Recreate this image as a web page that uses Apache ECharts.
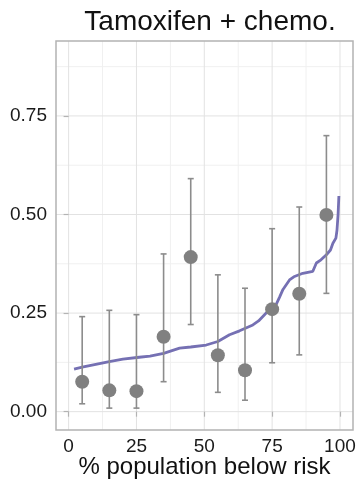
<!DOCTYPE html>
<html><head><meta charset="utf-8">
<script src="https://cdn.jsdelivr.net/npm/echarts@6/dist/echarts.min.js"></script>
<style>html,body{margin:0;padding:0;background:#fff}#c{width:358px;height:479px}</style>
</head><body><div id="c"></div>
<script>
// Binned observed rates with confidence intervals
const binX = [5, 15, 25, 35, 45, 55, 65, 75, 85, 95];
const binY = [0.076, 0.054, 0.052, 0.190, 0.392, 0.143, 0.105, 0.260, 0.299, 0.499];
const binLow = [0.020, 0.009, 0.009, 0.076, 0.221, 0.049, 0.029, 0.124, 0.144, 0.300];
const binHigh = [0.241, 0.257, 0.246, 0.400, 0.591, 0.347, 0.313, 0.464, 0.519, 0.700];
// Predicted risk curve
const curveX = [2, 5, 10, 15, 20, 26, 30, 35, 40.9, 45, 50.7, 55, 59.3, 63, 67.9, 70, 72.8, 75, 76.5, 77.7, 79, 81.4, 83, 86.3, 90, 91.3, 93, 95, 96.5, 97.4, 98.5, 98.9, 99.3, 99.6];
const curveY = [0.108, 0.113, 0.120, 0.127, 0.133, 0.138, 0.141, 0.148, 0.161, 0.164, 0.169, 0.178, 0.195, 0.205, 0.220, 0.230, 0.250, 0.258, 0.272, 0.290, 0.310, 0.334, 0.342, 0.351, 0.356, 0.377, 0.385, 0.398, 0.410, 0.427, 0.440, 0.460, 0.500, 0.547];
// Axis ticks
const xTicks = [0, 25, 50, 75, 100];
const xMinor = [12.5, 37.5, 62.5, 87.5];
const yTicks = [0, 0.25, 0.5, 0.75];
const yMinor = [0.125, 0.375, 0.625, 0.875];

const X_MIN = -4.65, X_MAX = 104.8, Y_MIN = -0.0465, Y_MAX = 0.94;
const FONT = 'Liberation Sans, Arial, sans-serif';

const chart = echarts.init(document.getElementById('c'), null, {renderer: 'canvas'});

function gridRender(params, api) {
  const cs = params.coordSys;
  const children = [];
  const add = (vals, isX, color, w) => {
    vals.forEach(v => {
      let p1, p2;
      if (isX) { const p = api.coord([v, Y_MIN]); p1 = [p[0], cs.y]; p2 = [p[0], cs.y + cs.height]; }
      else { const p = api.coord([X_MIN, v]); p1 = [cs.x, p[1]]; p2 = [cs.x + cs.width, p[1]]; }
      children.push({type: 'line', shape: {x1: p1[0], y1: p1[1], x2: p2[0], y2: p2[1]}, style: {stroke: color, lineWidth: w}});
    });
  };
  add(xMinor, true, '#f0f0f0', 1);
  add(yMinor, false, '#f0f0f0', 1);
  add(xTicks, true, '#e2e2e2', 1);
  add(yTicks, false, '#e2e2e2', 1);
  return {type: 'group', children};
}

const errData = binX.map((x, i) => [x, binLow[i], binHigh[i]]);

function errRender(params, api) {
  const x = api.value(0);
  const lo = api.coord([x, api.value(1)]);
  const hi = api.coord([x, api.value(2)]);
  const cap = 3;
  const st = {stroke: '#8c8c8c', lineWidth: 1.6};
  return {type: 'group', children: [
    {type: 'line', shape: {x1: lo[0], y1: lo[1], x2: hi[0], y2: hi[1]}, style: st},
    {type: 'line', shape: {x1: lo[0] - cap, y1: lo[1], x2: lo[0] + cap, y2: lo[1]}, style: st},
    {type: 'line', shape: {x1: hi[0] - cap, y1: hi[1], x2: hi[0] + cap, y2: hi[1]}, style: st}
  ]};
}

chart.setOption({
  animation: false,
  backgroundColor: '#fff',
  title: {
    text: 'Tamoxifen + chemo.', left: 205, top: 3, textAlign: 'center',
    textStyle: {fontFamily: FONT, fontSize: 28, fontWeight: 'normal', color: '#111'}
  },
  grid: {left: 56, right: 5, top: 41, bottom: 49, show: true, borderColor: '#b3b3b3', borderWidth: 1.5,
    backgroundColor: 'transparent', z: 5, containLabel: false, outerBoundsMode: 'none'},
  xAxis: {
    type: 'value', min: X_MIN, max: X_MAX,
    name: '% population below risk', nameLocation: 'middle', nameGap: 37, nameMoveOverlap: false,
    nameTextStyle: {fontFamily: FONT, fontSize: 24, color: '#111', verticalAlign: 'middle'},
    axisLine: {show: false},
    splitLine: {show: false},
    axisTick: {show: true, length: 5, lineStyle: {color: '#b3b3b3', width: 1.2}, customValues: xTicks},
    axisLabel: {fontFamily: FONT, fontSize: 19, color: '#1a1a1a', margin: 7, customValues: xTicks}
  },
  yAxis: {
    type: 'value', min: Y_MIN, max: Y_MAX,
    axisLine: {show: false},
    splitLine: {show: false},
    axisTick: {show: true, length: 5, lineStyle: {color: '#b3b3b3', width: 1.2}, customValues: yTicks},
    axisLabel: {fontFamily: FONT, fontSize: 19, color: '#1a1a1a', margin: 9, customValues: yTicks,
      formatter: v => v.toFixed(2)}
  },
  series: [
    {type: 'custom', renderItem: gridRender, data: [[0, 0]], z: 0, silent: true, clip: true},
    {type: 'line', data: curveX.map((x, i) => [x, curveY[i]]), showSymbol: false, symbol: 'none',
      lineStyle: {color: '#7570b3', width: 2.8}, z: 2, silent: true},
    {type: 'custom', renderItem: errRender, data: errData, z: 3, silent: true},
    {type: 'scatter', data: binX.map((x, i) => [x, binY[i]]), symbolSize: 14,
      itemStyle: {color: '#808080', opacity: 1}, z: 4, silent: true}
  ]
});
</script></body></html>
